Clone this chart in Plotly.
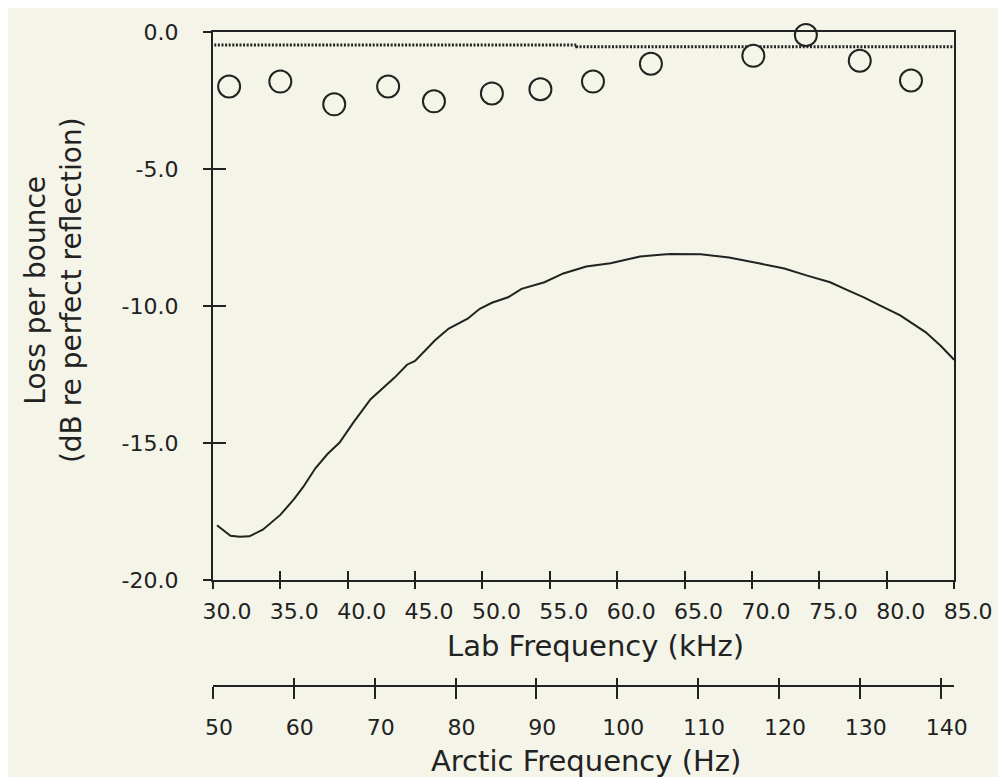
import plotly.graph_objects as go

# ---- data ----
curve_khz = [30.3, 30.8, 31.3, 32.0, 32.7, 33.7, 35.0, 36.0, 36.7, 37.6, 38.5, 39.4,
             40.4, 41.7, 42.5, 43.5, 44.4, 45.0, 46.5, 47.5, 48.9, 49.8, 50.7, 51.9,
             52.9, 54.6, 56.0, 57.7, 59.5, 61.7, 63.4, 64.0, 66.2, 68.3, 70.5, 72.4,
             74.1, 75.8, 77.0, 78.3, 79.6, 81.0, 82.9, 84.0, 85.0]
curve_db = [-18.0, -18.2, -18.38, -18.42, -18.4, -18.16, -17.62, -17.05, -16.6, -15.92,
            -15.4, -14.98, -14.26, -13.40, -13.05, -12.6, -12.14, -12.0, -11.24, -10.82,
            -10.46, -10.10, -9.88, -9.68, -9.37, -9.13, -8.81, -8.56, -8.44, -8.19,
            -8.12, -8.1, -8.11, -8.23, -8.44, -8.63, -8.89, -9.13, -9.4, -9.68, -10.0,
            -10.34, -10.96, -11.45, -11.96]

meas_khz = [31.2, 35.0, 39.0, 43.0, 46.4, 50.7, 54.3, 58.2, 62.5, 70.1, 74.0, 78.0, 81.8]
meas_db = [-1.99, -1.81, -2.64, -1.99, -2.53, -2.24, -2.09, -1.81, -1.16, -0.87, -0.11, -1.05, -1.77]

dotted_khz = [30.1, 57.0, 57.0, 85.0]
dotted_db = [-0.47, -0.47, -0.54, -0.54]

lab_ticks = [30, 35, 40, 45, 50, 55, 60, 65, 70, 75, 80, 85]
lab_labels = ["30.0", "35.0", "40.0", "45.0", "50.0", "55.0", "60.0", "65.0", "70.0", "75.0", "80.0", "85.0"]
db_ticks = [0, -5, -10, -15, -20]
db_labels = ["0.0", "-5.0", "-10.0", "-15.0", "-20.0"]
arctic_ticks = [50, 60, 70, 80, 90, 100, 110, 120, 130, 140]
arctic_labels = ["50", "60", "70", "80", "90", "100", "110", "120", "130", "140"]

# ---- styling ----
BG = "#f4f4e8"
INK = "#222222"
FONT = "DejaVu Sans"

W, H = 1006, 777
ML, MR, MT, MB = 200, 41, 17, 99
PW = W - ML - MR
PH = H - MT - MB


def px_x(p):
    return (p - ML) / PW


def px_y(p):
    return (H - MB - p) / PH


fig = go.Figure()

fig.add_trace(go.Scatter(x=dotted_khz, y=dotted_db, mode="lines",
                         line=dict(color=INK, width=3, dash="2px,1.6px"),
                         showlegend=False, hoverinfo="skip"))
fig.add_trace(go.Scatter(x=curve_khz, y=curve_db, mode="lines",
                         line=dict(color=INK, width=2),
                         showlegend=False))
fig.add_trace(go.Scatter(x=meas_khz, y=meas_db, mode="markers",
                         marker=dict(symbol="circle", size=22, color=BG,
                                     line=dict(color=INK, width=2)),
                         cliponaxis=False, showlegend=False))
# dummy traces so the helper axes are drawn
fig.add_trace(go.Scatter(x=[None], y=[None], xaxis="x2", yaxis="y", showlegend=False, hoverinfo="skip"))
fig.add_trace(go.Scatter(x=[None], y=[None], xaxis="x3", yaxis="y", showlegend=False, hoverinfo="skip"))
fig.add_trace(go.Scatter(x=[None], y=[None], xaxis="x", yaxis="y2", showlegend=False, hoverinfo="skip"))
fig.add_trace(go.Scatter(x=[None], y=[None], xaxis="x4", yaxis="y", showlegend=False, hoverinfo="skip"))

x_dom = [px_x(205), px_x(955)]
y_dom = [px_y(571), 1.0]
x2_dom = [px_x(203), px_x(962)]
x2_range = [50, 50 + (962 - 203) / 8.28]

tickfont = dict(family=FONT, size=22, color=INK)

fig.update_layout(
    width=W, height=H,
    margin=dict(l=ML, r=MR, t=MT, b=MB, pad=0),
    paper_bgcolor=BG, plot_bgcolor=BG,
    xaxis=dict(domain=x_dom, range=[30, 85], anchor="y",
               tickvals=lab_ticks, ticktext=lab_labels,
               ticks="outside", ticklen=7, tickwidth=2, tickcolor=INK,
               showline=True, linewidth=2, linecolor=INK, mirror=True,
               showgrid=False, zeroline=False, tickfont=tickfont,
               ticklabelshift=14, ticklabelstandoff=3),
    xaxis3=dict(domain=x_dom, range=[30, 85], anchor="y", overlaying="x",
                tickvals=lab_ticks, ticks="inside", ticklen=9, tickwidth=2,
                tickcolor=INK, showticklabels=False, showline=False,
                showgrid=False, zeroline=False),
    yaxis=dict(domain=y_dom, range=[-20, 0], anchor="x",
               tickvals=db_ticks, ticktext=db_labels,
               ticks="outside", ticklen=8, tickwidth=2, tickcolor=INK,
               showline=True, linewidth=2, linecolor=INK, mirror=True,
               showgrid=False, zeroline=False, tickfont=tickfont,
               ticklabelstandoff=20),
    yaxis2=dict(domain=y_dom, range=[-20, 0], anchor="x", overlaying="y",
                tickvals=db_ticks, ticks="inside", ticklen=13, tickwidth=2,
                tickcolor=INK, showticklabels=False, showline=False,
                showgrid=False, zeroline=False),
    xaxis2=dict(domain=x2_dom, range=x2_range, anchor="free", position=0,
                overlaying="x",
                tickvals=arctic_ticks, ticktext=arctic_labels,
                ticks="outside", ticklen=12, tickwidth=2, tickcolor=INK,
                showline=True, linewidth=2, linecolor=INK,
                showgrid=False, zeroline=False, tickfont=tickfont,
                ticklabelshift=6, ticklabelstandoff=10),
    xaxis4=dict(domain=x2_dom, range=x2_range, anchor="free", position=0,
                overlaying="x",
                tickvals=arctic_ticks, ticks="inside", ticklen=8, tickwidth=2,
                tickcolor=INK, showticklabels=False, showline=False,
                showgrid=False, zeroline=False),
    annotations=[
        dict(text="Loss per bounce<br>(dB re perfect reflection)",
             xref="paper", yref="paper", x=px_x(43), y=px_y(278),
             xanchor="center", yanchor="middle", textangle=-90, showarrow=False,
             font=dict(family=FONT, size=28, color=INK)),
        dict(text="Lab Frequency (kHz)",
             xref="paper", yref="paper", x=px_x(592), y=px_y(638),
             xanchor="center", yanchor="middle", showarrow=False,
             font=dict(family=FONT, size=29, color=INK)),
        dict(text="Arctic Frequency (Hz)",
             xref="paper", yref="paper", x=px_x(583), y=px_y(754),
             xanchor="center", yanchor="middle", showarrow=False,
             font=dict(family=FONT, size=29, color=INK)),
    ],
)

fig.write_html("out.html")
